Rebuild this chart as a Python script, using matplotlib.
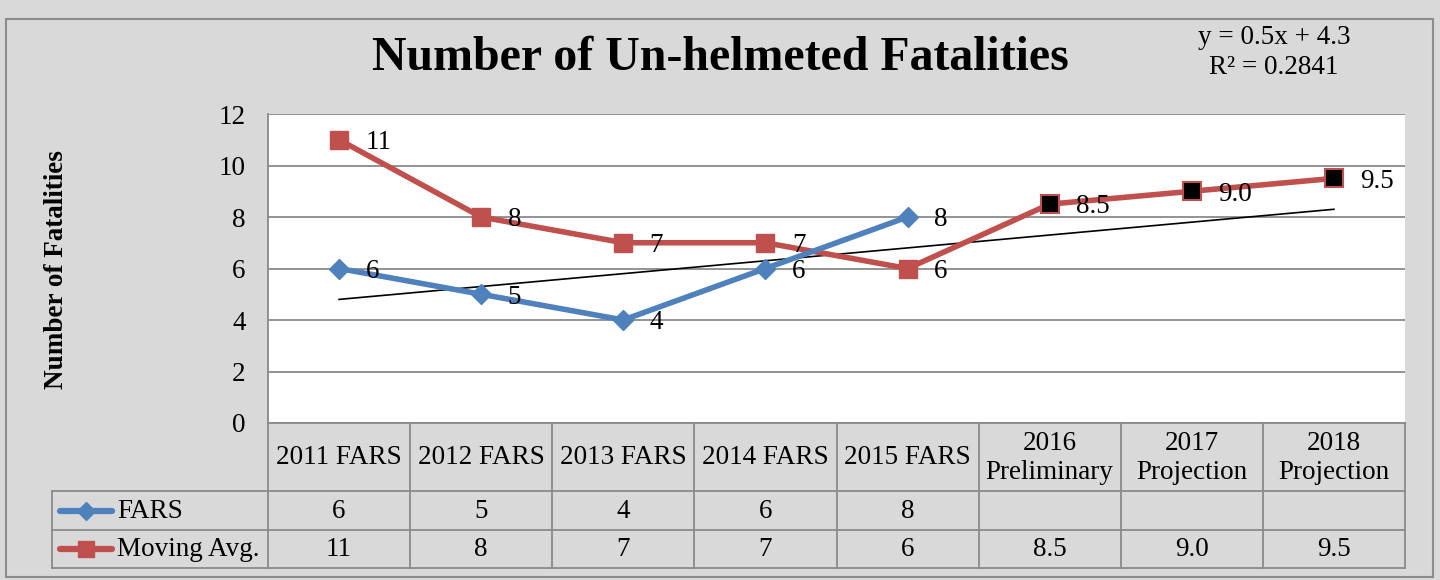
import matplotlib
matplotlib.use("Agg")
import matplotlib.pyplot as plt
from matplotlib.transforms import blended_transform_factory
from matplotlib.lines import Line2D
from matplotlib.patches import Rectangle

plt.rcParams['font.family'] = ['Liberation Serif', 'DejaVu Serif']

categories = ["2011 FARS", "2012 FARS", "2013 FARS", "2014 FARS", "2015 FARS",
              "2016\nPreliminary", "2017\nProjection", "2018\nProjection"]
fars = [6, 5, 4, 6, 8]
moving_avg = [11, 8, 7, 7, 6, 8.5, 9.0, 9.5]
fars_labels = ["6", "5", "4", "6", "8"]
mavg_labels = ["11", "8", "7", "7", "6", "8.5", "9.0", "9.5"]
n_actual = 5
trend_slope = 0.5
trend_intercept = 4.3
trend_r2 = 0.2841
yticks = [0, 2, 4, 6, 8, 10, 12]

W, H = 1440, 580
BG = "#d9d9d9"
GRID = "#8a8a8a"
BLUE = "#4f81bd"
RED = "#c0504d"
FS = 19.5

fig = plt.figure(figsize=(W / 100, H / 100), dpi=100)
fig.patch.set_facecolor(BG)

def fy(py):
    return 1 - py / H

def fx(px):
    return px / W

# outer border
fig.add_artist(Rectangle((fx(6), fy(577)), fx(1433) - fx(6), fy(19) - fy(577),
                         transform=fig.transFigure, fill=False, edgecolor="#8c8c8c", lw=1.5))

left, right, top, bottom = 268, 1405, 114, 423
ax = fig.add_axes([fx(left), fy(bottom), fx(right) - fx(left), fy(top) - fy(bottom)])
ax.set_facecolor("white")
ax.set_xlim(-0.5, len(categories) - 0.5)
ax.set_ylim(0, 12)
ax.set_yticks(yticks)
ax.set_yticklabels([str(t) for t in yticks], fontsize=FS)
ax.tick_params(axis='y', length=0, pad=16)
ax.set_xticks([])
for s in ["top", "right", "bottom"]:
    ax.spines[s].set_visible(False)
ax.spines["left"].set_color(GRID)
ax.spines["left"].set_linewidth(1.3)
ax.grid(axis='y', color=GRID, lw=1.3)
ax.set_axisbelow(True)

xs = list(range(len(categories)))

# trendline
tx = [xs[0], xs[-1]]
ty = [trend_slope * (x + 1) + trend_intercept for x in tx]
ax.plot(tx, ty, color="black", lw=1.2, zorder=2)

# Moving avg
ax.plot(xs, moving_avg, color=RED, lw=4, zorder=3)
ax.plot(xs[:n_actual], moving_avg[:n_actual], ls="none", marker="s", ms=13,
        mfc=RED, mec=RED, zorder=4)
ax.plot(xs[n_actual:], moving_avg[n_actual:], ls="none", marker="s", ms=13,
        mfc="black", mec=RED, mew=1.5, zorder=4)
# FARS
ax.plot(xs[:len(fars)], fars, color=BLUE, lw=4, marker="D", ms=10,
        mfc=BLUE, mec=BLUE, zorder=5)

for x, v, lab in zip(xs, moving_avg, mavg_labels):
    ax.annotate(lab, (x, v), xytext=(19, -2), textcoords="offset points",
                ha="left", va="center", fontsize=FS, zorder=6)
for x, v, lab in zip(xs, fars, fars_labels):
    ax.annotate(lab, (x, v), xytext=(19, -2), textcoords="offset points",
                ha="left", va="center", fontsize=FS, zorder=6)

# title and equation
fig.text(fx(720), fy(58), "Number of Un-helmeted Fatalities", ha="center", va="center",
         fontsize=34.5, fontweight="bold")
fig.text(fx(1274), fy(38), "y = %.1fx + %.1f" % (trend_slope, trend_intercept),
         ha="center", va="center", fontsize=FS)
fig.text(fx(1274), fy(68), "R² = %.4f" % trend_r2, ha="center", va="center", fontsize=FS)

fig.text(fx(57), fy(270), "Number of Fatalities", rotation=90, ha="center", va="center",
         fontsize=FS, fontweight="bold")

# data table
tr = blended_transform_factory(ax.transData, fig.transFigure)
y_hdr_top, y_hdr_bot, y_r1, y_r2 = 423, 491, 530, 568
lab_left = 52
kw = dict(color=GRID, lw=1.3, clip_on=False)

def hline(py, x0px):
    fig.add_artist(Line2D([fx(x0px), fx(right)], [fy(py), fy(py)],
                          transform=fig.transFigure, **kw))

hline(y_hdr_top, left)
for py in (y_hdr_bot, y_r1, y_r2):
    hline(py, lab_left)
fig.add_artist(Line2D([fx(lab_left), fx(lab_left)], [fy(y_hdr_bot), fy(y_r2)],
                      transform=fig.transFigure, **kw))
for i in range(len(categories) + 1):
    xb = i - 0.5
    fig.add_artist(Line2D([xb, xb], [fy(y_hdr_top), fy(y_r2)], transform=tr, **kw))

for x, c in zip(xs, categories):
    fig.text(x, fy((y_hdr_top + y_hdr_bot) / 2 + 1), c, transform=tr, ha="center",
             va="center", fontsize=FS, linespacing=1.25)
fars_cells = fars_labels + [""] * (len(categories) - len(fars))
for x, c in zip(xs, fars_cells):
    fig.text(x, fy((y_hdr_bot + y_r1) / 2 + 1), c, transform=tr, ha="center",
             va="center", fontsize=FS)
for x, c in zip(xs, mavg_labels):
    fig.text(x, fy((y_r1 + y_r2) / 2 + 1), c, transform=tr, ha="center",
             va="center", fontsize=FS)

# legend keys
for (py0, py1), col, mk, ms, name in [((y_hdr_bot, y_r1), BLUE, "D", 9, "FARS"),
                                      ((y_r1, y_r2), RED, "s", 12, "Moving Avg.")]:
    yc = fy((py0 + py1) / 2)
    fig.add_artist(Line2D([fx(60), fx(112)], [yc, yc], transform=fig.transFigure,
                          color=col, lw=4.5, solid_capstyle="round"))
    fig.add_artist(Line2D([fx(86)], [yc], transform=fig.transFigure, color=col,
                          marker=mk, ms=ms, ls="none"))
    fig.text(fx(117), yc - 0.001, name, ha="left", va="center", fontsize=FS)

fig.savefig("out.png", dpi=100, facecolor=BG)
